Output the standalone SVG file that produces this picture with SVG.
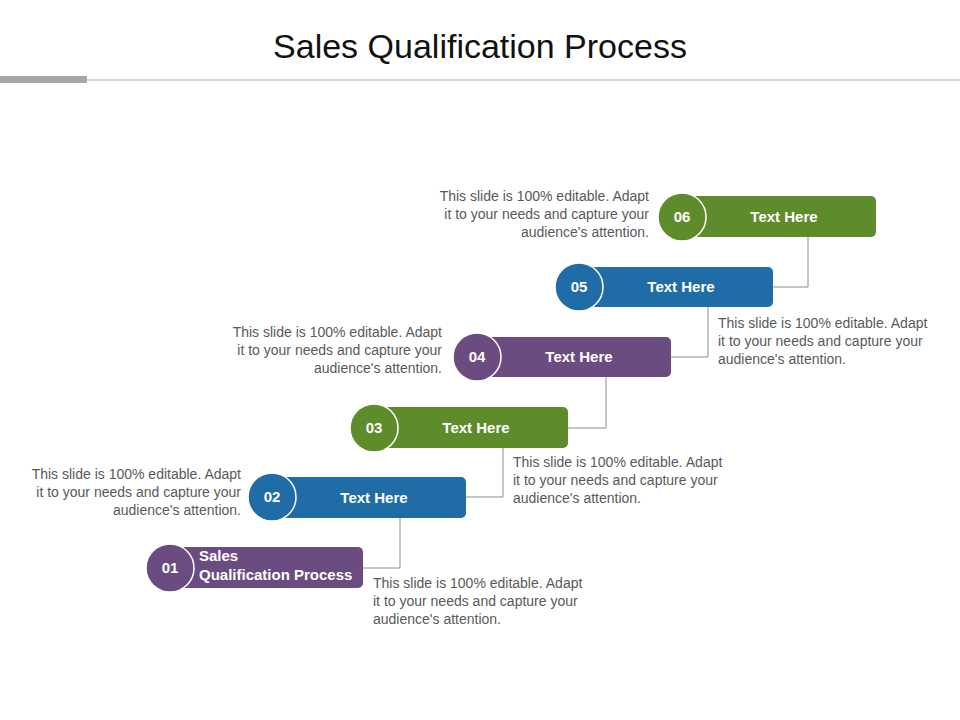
<svg xmlns="http://www.w3.org/2000/svg" width="960" height="720" viewBox="0 0 960 720">
<style>
.t{font-family:"Liberation Sans",Arial,sans-serif}
.d{font-family:"Liberation Sans",Arial,sans-serif;font-size:14px;fill:#595959}
.l{font-family:"Liberation Sans",Arial,sans-serif;font-size:15px;font-weight:bold;fill:#fff}
.c{stroke:#fff;stroke-width:1.5}
.cn{fill:none;stroke:#8c8c8c;stroke-width:1}
.p{fill:#6b4c80}.b{fill:#1f6ca6}.g{fill:#5e8c2a}
</style>
<rect width="960" height="720" fill="#fff"/>
<text class="t" x="480" y="58" font-size="34" text-anchor="middle" fill="#111">Sales Qualification Process</text>
<line x1="0" y1="80" x2="960" y2="80" stroke="#b0b0b0" stroke-width="1"/>
<rect x="0" y="76" width="87" height="7" fill="#a6a6a6"/>
<g id="connectors">
<path class="cn" d="M363 568H400V518"/>
<path class="cn" d="M466 497H503V448"/>
<path class="cn" d="M568 428H606V377"/>
<path class="cn" d="M671 357H708V307"/>
<path class="cn" d="M773 287H808V237"/>
</g>
<g id="n01"><rect class="p" x="170" y="547" width="193" height="41" rx="5"/><circle class="p c" cx="170" cy="568" r="24"/><text class="l" x="170" y="573" text-anchor="middle">01</text><text class="l" x="199" y="561">Sales</text><text class="l" x="199" y="580">Qualification  Process</text></g>
<g id="n02"><rect class="b" x="272" y="477" width="194" height="41" rx="5"/><circle class="b c" cx="272" cy="497" r="24"/><text class="l" x="272" y="502" text-anchor="middle">02</text><text class="l" x="374" y="503" text-anchor="middle">Text Here</text></g>
<g id="n03"><rect class="g" x="374" y="407" width="194" height="41" rx="5"/><circle class="g c" cx="374" cy="428" r="24"/><text class="l" x="374" y="433" text-anchor="middle">03</text><text class="l" x="476" y="433" text-anchor="middle">Text Here</text></g>
<g id="n04"><rect class="p" x="477" y="337" width="194" height="40" rx="5"/><circle class="p c" cx="477" cy="357" r="24"/><text class="l" x="477" y="362" text-anchor="middle">04</text><text class="l" x="579" y="362" text-anchor="middle">Text Here</text></g>
<g id="n05"><rect class="b" x="579" y="267" width="194" height="40" rx="5"/><circle class="b c" cx="579" cy="287" r="24"/><text class="l" x="579" y="292" text-anchor="middle">05</text><text class="l" x="681" y="292" text-anchor="middle">Text Here</text></g>
<g id="n06"><rect class="g" x="682" y="196" width="194" height="41" rx="5"/><circle class="g c" cx="682" cy="217" r="24"/><text class="l" x="682" y="222" text-anchor="middle">06</text><text class="l" x="784" y="222" text-anchor="middle">Text Here</text></g>
<g id="texts">
<text class="d" x="373" y="588">This slide is 100% editable. Adapt<tspan x="373" dy="18">it to your needs and capture your</tspan><tspan x="373" dy="18">audience's attention.</tspan></text>
<text class="d" x="241" y="479" text-anchor="end">This slide is 100% editable. Adapt<tspan x="241" dy="18">it to your needs and capture your</tspan><tspan x="241" dy="18">audience's attention.</tspan></text>
<text class="d" x="513" y="467">This slide is 100% editable. Adapt<tspan x="513" dy="18">it to your needs and capture your</tspan><tspan x="513" dy="18">audience's attention.</tspan></text>
<text class="d" x="442" y="337" text-anchor="end">This slide is 100% editable. Adapt<tspan x="442" dy="18">it to your needs and capture your</tspan><tspan x="442" dy="18">audience's attention.</tspan></text>
<text class="d" x="718" y="328">This slide is 100% editable. Adapt<tspan x="718" dy="18">it to your needs and capture your</tspan><tspan x="718" dy="18">audience's attention.</tspan></text>
<text class="d" x="649" y="201" text-anchor="end">This slide is 100% editable. Adapt<tspan x="649" dy="18">it to your needs and capture your</tspan><tspan x="649" dy="18">audience's attention.</tspan></text>
</g>
</svg>
